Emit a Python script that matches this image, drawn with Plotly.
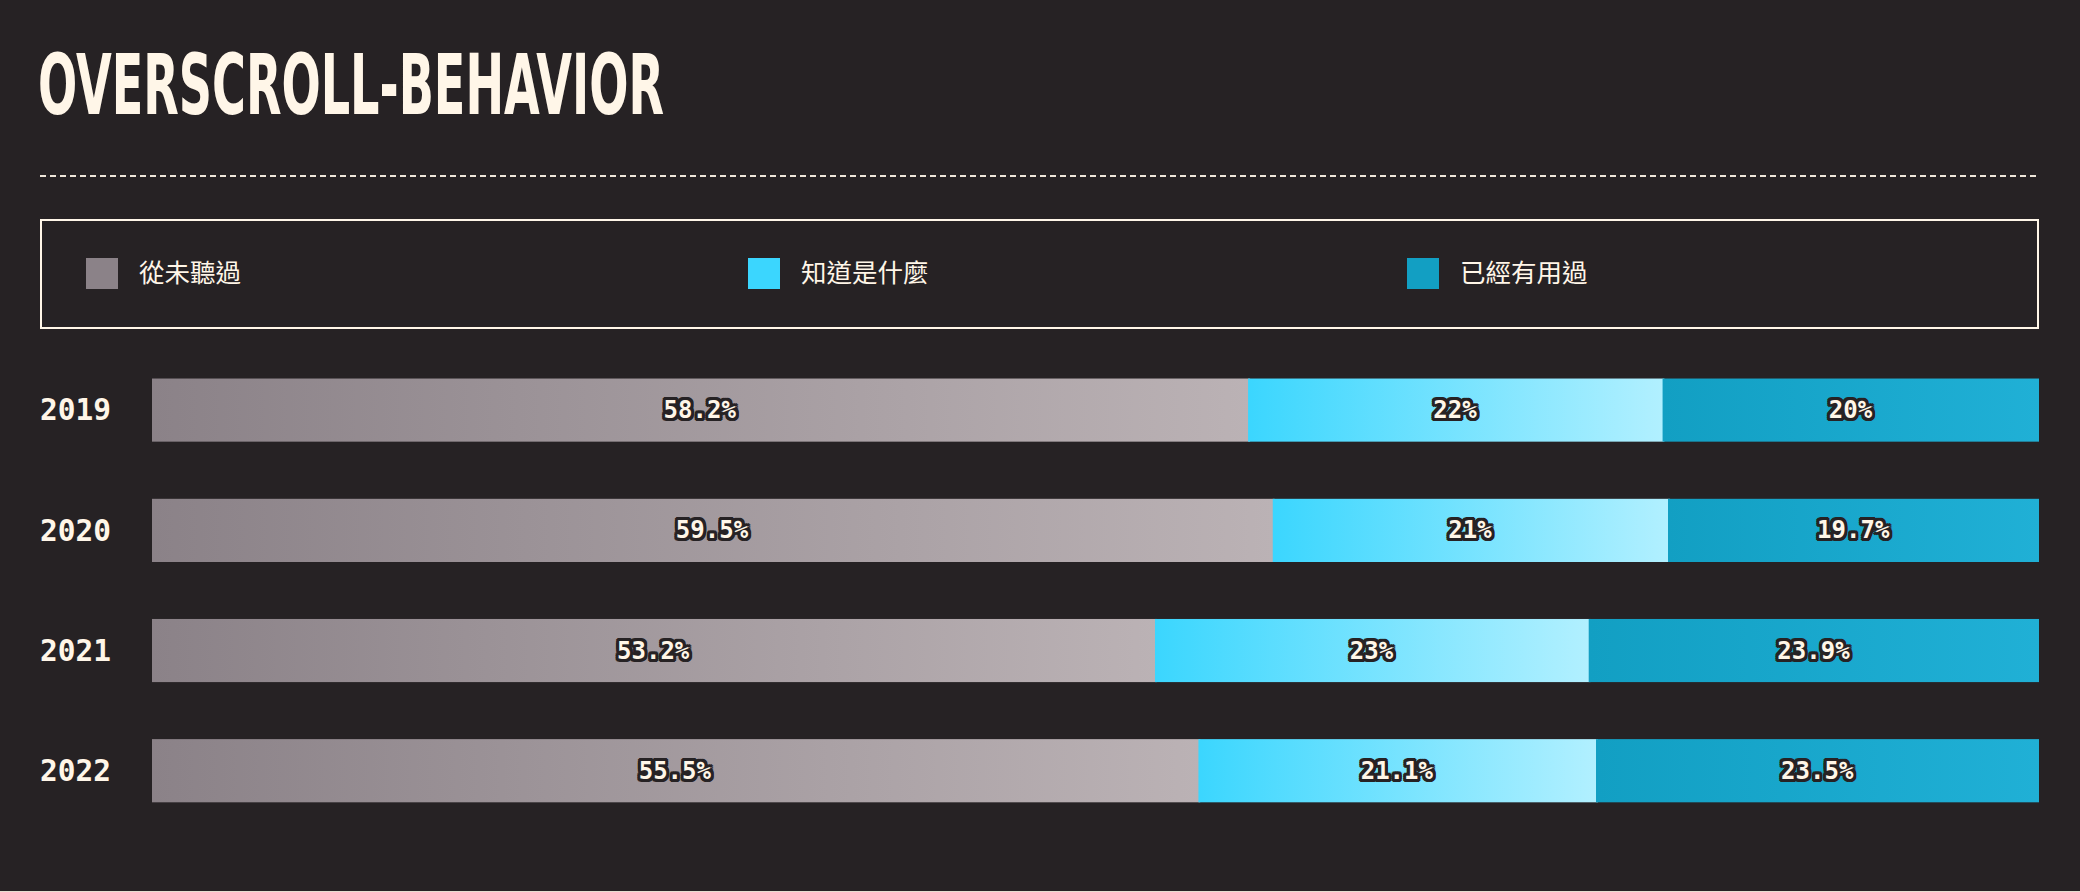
import base64
import plotly.graph_objects as go

# ---------------- data ----------------
years = ["2019", "2020", "2021", "2022"]
series_names = ["從未聽過", "知道是什麼", "已經有用過"]
never_heard = [58.2, 59.5, 53.2, 55.5]
know_what = [22, 21, 23, 21.1]
used_it = [20, 19.7, 23.9, 23.5]
title_text = "OVERSCROLL-BEHAVIOR"

# ---------------- style ----------------
W, H = 2080, 892
BG = "#262224"
CREAM = "#fff6e8"
grad_colors = [("#8b8288", "#bbb2b5"), ("#3bd6fe", "#b2f0ff"), ("#129fc3", "#20b0d6")]
swatch_colors = ["#8b8288", "#3bd6fe", "#129fc3"]
series_vals = [never_heard, know_what, used_it]

BAR_WIDTH = 0.528
X0, X1 = 152, 2039
Y_TOP, Y_BOT = 350, 831
TITLE_TARGET_W = 626
SEAM_OVERLAP = 0.12  # tiny overlap (axis units) so adjacent gradient images leave no hairline


def px(x):
    return x / W


def py(y):
    return 1 - y / H


def grad_uri(c0, c1):
    svg = (
        '<svg xmlns="http://www.w3.org/2000/svg" width="200" height="20" viewBox="0 0 200 20" '
        'preserveAspectRatio="none"><defs><linearGradient id="g" x1="0" y1="0" x2="1" y2="0">'
        f'<stop offset="0" stop-color="{c0}"/><stop offset="1" stop-color="{c1}"/>'
        '</linearGradient></defs><rect x="0" y="0" width="200" height="20" fill="url(#g)"/></svg>'
    )
    return "data:image/svg+xml;base64," + base64.b64encode(svg.encode()).decode()


ypos = list(range(len(years)))
totals = [sum(v[j] for v in series_vals) for j in range(len(years))]

shadow = ", ".join(
    f"{dx}px {dy}px 0 {BG}"
    for dx, dy in [(-3, 0), (3, 0), (0, -3), (0, 3), (-2, -2), (2, -2), (-2, 2), (2, 2),
                   (3, 2), (-3, 2), (3, -2), (-3, -2), (2, 3), (-2, 3), (2, -3), (-2, -3)]
)

fig = go.Figure()
images = []
for i, (name, vals) in enumerate(zip(series_names, series_vals)):
    fig.add_trace(
        go.Bar(
            x=vals,
            y=ypos,
            orientation="h",
            name=name,
            marker=dict(color="rgba(0,0,0,0)", line=dict(width=0)),
            text=[f"{v:g}%" for v in vals],
            textposition="inside",
            insidetextanchor="middle",
            textangle=0,
            constraintext="none",
            textfont=dict(family="DejaVu Sans Mono", size=24, color=CREAM, weight="bold", shadow=shadow),
            hoverinfo="skip",
            showlegend=False,
        )
    )
    uri = grad_uri(*grad_colors[i])
    last = i == len(series_vals) - 1
    for j in range(len(years)):
        start = sum(series_vals[k][j] for k in range(i)) / totals[j] * 100
        width = vals[j] / totals[j] * 100
        images.append(
            dict(
                source=uri, xref="x", yref="y", x=start, y=ypos[j],
                sizex=width + (0 if last else SEAM_OVERLAP), sizey=BAR_WIDTH,
                xanchor="left", yanchor="middle",
                sizing="stretch", layer="below",
            )
        )

shapes = [
    # dashed separator
    dict(type="line", xref="paper", yref="paper", x0=px(40), x1=px(2039), y0=py(176), y1=py(176),
         line=dict(color="#eee6da", width=2, dash="6px,4px")),
    # legend box
    dict(type="rect", xref="paper", yref="paper", x0=px(41), x1=px(2038), y0=py(220), y1=py(328),
         line=dict(color=CREAM, width=2), fillcolor="rgba(0,0,0,0)"),
    # bottom rule
    dict(type="line", xref="paper", yref="paper", x0=0, x1=1, y0=py(891.5), y1=py(891.5),
         line=dict(color="#e6ddd0", width=1)),
]
annotations = [
    dict(text=f"<b>{title_text}</b>", xref="paper", yref="paper", x=px(36), y=py(85),
         xanchor="left", yanchor="middle", showarrow=False,
         font=dict(family="DejaVu Sans Condensed, DejaVu Sans", size=84, color=CREAM)),
]
legend_x = [86, 748, 1407]
for i, name in enumerate(series_names):
    shapes.append(dict(type="rect", xref="paper", yref="paper", x0=px(legend_x[i]), x1=px(legend_x[i] + 32),
                       y0=py(258), y1=py(289), fillcolor=swatch_colors[i], line=dict(width=0)))
    annotations.append(dict(text=name, xref="paper", yref="paper", x=px(legend_x[i] + 51), y=py(271),
                            xanchor="left", yanchor="middle", showarrow=False,
                            font=dict(family="Noto Sans CJK TC", size=25.5, color=CREAM)))

fig.update_layout(
    width=W, height=H,
    margin=dict(l=0, r=0, t=0, b=0),
    paper_bgcolor=BG, plot_bgcolor=BG,
    barmode="stack", barnorm="percent", bargap=1 - BAR_WIDTH,
    xaxis=dict(domain=[px(X0), px(X1)], range=[0, 100], visible=False, fixedrange=True),
    yaxis=dict(domain=[py(Y_BOT), py(Y_TOP)], range=[len(years) - 0.5, -0.5],
               tickmode="array", tickvals=ypos, ticktext=years,
               showgrid=False, zeroline=False, showline=False, ticks="",
               ticklabelstandoff=40,
               tickfont=dict(family="DejaVu Sans Mono", size=29.5, color=CREAM, weight="bold")),
    shapes=shapes, annotations=annotations, images=images,
    showlegend=False,
)

# squeeze the display title horizontally so it reads like a condensed poster face
post_script = """
var gd = document.getElementById('{plot_id}');
function squeezeTitle(){
  var els = gd.querySelectorAll('.annotation-text');
  for (var k = 0; k < els.length; k++) {
    var el = els[k];
    if (el.textContent.indexOf('%s') === -1) continue;
    el.style.transform = '';
    var w = el.getBBox().width;
    if (!w) continue;
    el.style.transformBox = 'fill-box';
    el.style.transformOrigin = 'left center';
    el.style.transform = 'scaleX(' + (%d / w) + ')';
  }
}
squeezeTitle();
if (gd.on) { gd.on('plotly_afterplot', squeezeTitle); }
""" % (title_text, TITLE_TARGET_W)

fig.write_html("out.html", post_script=post_script)
